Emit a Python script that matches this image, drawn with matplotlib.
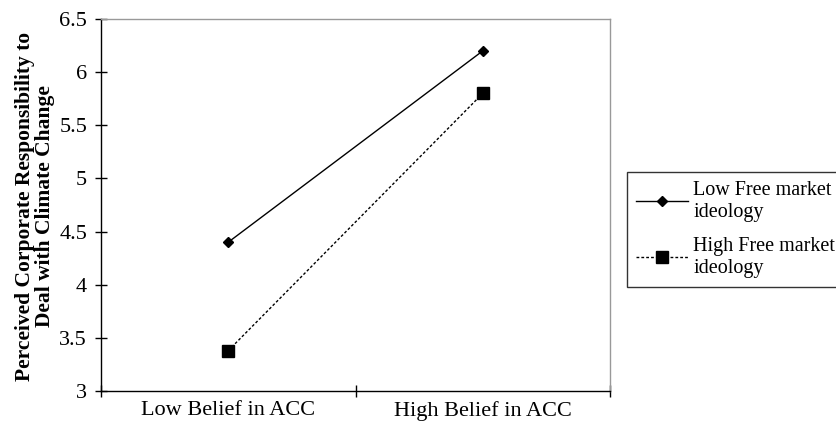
import matplotlib.pyplot as plt

categories = ["Low Belief in ACC", "High Belief in ACC"]
low_fm = [4.4, 6.2]
high_fm = [3.38, 5.8]
series_labels = ["Low Free market\nideology", "High Free market\nideology"]
y_ticks = [3, 3.5, 4, 4.5, 5, 5.5, 6, 6.5]

plt.rcParams['font.family'] = ['Liberation Serif', 'DejaVu Serif']

fig = plt.figure(figsize=(8.37, 4.32), dpi=100)
ax = fig.add_axes([101 / 837, 1 - 391 / 432, 509 / 837, 372 / 432])

x = [0.5, 1.5]
ax.plot(x, low_fm, color='black', lw=1, marker='D', ms=5, label=series_labels[0])
ax.plot(x, high_fm, color='black', lw=1, ls=(0, (2, 1.5)), marker='s', ms=8,
        label=series_labels[1])

ax.set_xlim(0, 2)
ax.set_ylim(3, 6.5)
ax.set_yticks(y_ticks)
ax.set_yticklabels([f"{v:g}" for v in y_ticks], fontsize=16)
ax.set_xticks([0, 1, 2])
ax.set_xticklabels([])
ax.set_xticks(x, minor=True)
ax.set_xticklabels(categories, minor=True, fontsize=16)
ax.tick_params(axis='x', which='minor', length=0, pad=7)
ax.tick_params(axis='y', which='major', pad=6)
ax.tick_params(axis='both', which='major', direction='inout', length=8, width=1)
for s in ax.spines.values():
    s.set_linewidth(1)
ax.spines['top'].set_color('#999999')
ax.spines['right'].set_color('#999999')

fig.text(35 / 837, 1 - 206 / 432,
         "Perceived Corporate Responsibility to\nDeal with Climate Change",
         rotation=90, ha='center', va='center', fontsize=15.5,
         fontweight='bold', linespacing=1.0)

leg = fig.legend(loc='upper left', bbox_to_anchor=(627 / 837, 1 - 172 / 432),
                 fontsize=14.5, frameon=True, fancybox=False, edgecolor='black',
                 handlelength=2.6, handletextpad=0.25, borderpad=0.45,
                 labelspacing=0.75, borderaxespad=0)
leg.get_frame().set_linewidth(1)
for t in leg.get_texts():
    t.set_linespacing(1.2)

fig.savefig("out.png", dpi=100)
